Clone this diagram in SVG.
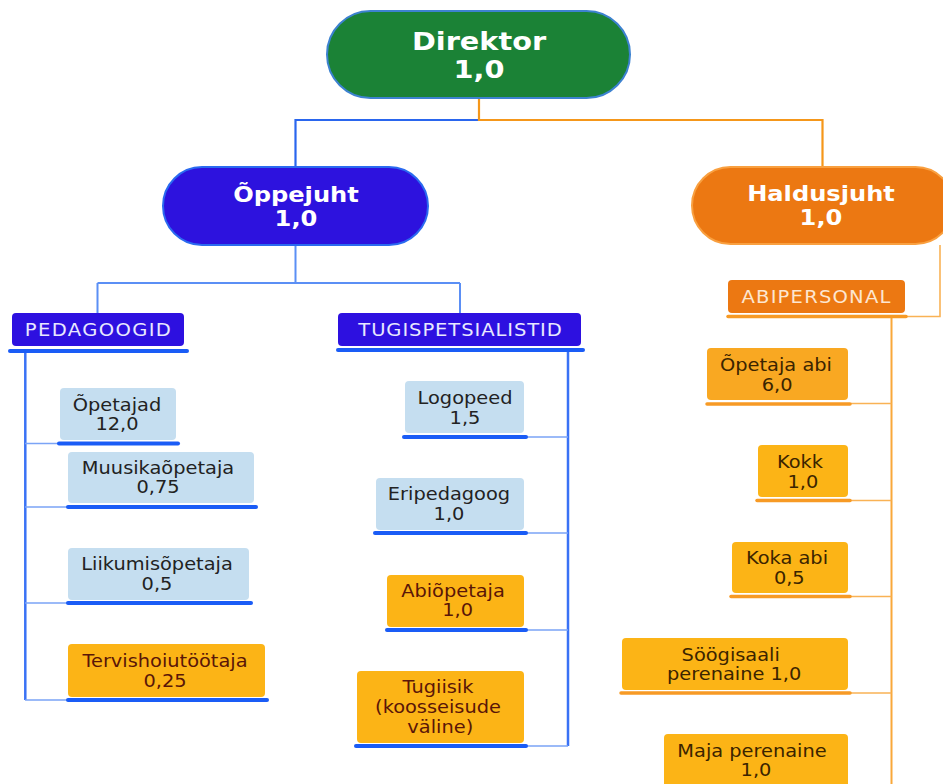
<svg xmlns="http://www.w3.org/2000/svg" width="943" height="784" viewBox="0 0 943 784">
<style>
text{font-family:"DejaVu Sans","Verdana",sans-serif;text-anchor:middle}
.big{font-weight:bold;fill:#ffffff}
.t{font-size:17px}
.lbl{font-size:17px}
.lb{fill:#c5def0}
.or{fill:#fcb416}
.dk{fill:#222222}
.br{fill:#3b2400}
.mr{fill:#5a1608}
.ulb{stroke:#1a5cf6;stroke-width:4;stroke-linecap:round}
.ulo{stroke:#f79a25;stroke-width:3.5;stroke-linecap:round}
.cb{fill:none;stroke:#3a72f5;stroke-width:2.5}
.cbt{fill:none;stroke:#7ba4f6;stroke-width:1.6}
.co{fill:none;stroke:#f9a83a;stroke-width:2}
.cot{fill:none;stroke:#f9b255;stroke-width:1.6}
</style>
<rect width="943" height="784" fill="#ffffff"/>
<g id="connectors">
  <path d="M479,120 H295.5 V166" fill="none" stroke="#2a66ee" stroke-width="2.2"/>
  <path d="M479,98 V120 H822.5 V166" fill="none" stroke="#f5971a" stroke-width="2.2"/>
  <path d="M295.5,245 V283 M97.5,283 H460 M97.5,283 V313 M460,283 V313" fill="none" stroke="#5b8ff5" stroke-width="2"/>
  <path class="cb" d="M25.3,351 V700"/>
  <path class="cbt" d="M25,443.5 H59 M25,507 H67 M25,603 H67 M25,700 H67"/>
  <path class="cb" d="M568,350 V746"/>
  <path class="cbt" d="M527,437 H568 M527,533 H568 M527,630 H568 M527,746 H568"/>
  <path class="cot" d="M940,245 V316.5 H907"/>
  <path class="co" d="M891.5,317 V784"/>
  <path class="cot" d="M851,403.5 H891.5 M851,500.5 H891.5 M851,596.5 H891.5 M851,693 H891.5"/>
</g>
<g id="direktor">
  <rect x="327" y="11" width="303" height="87" rx="43.5" fill="#1b8236" stroke="#3d82d0" stroke-width="2"/>
  <text class="big" font-size="25" transform="matrix(1.15 0 0 1 479 0)"><tspan x="0" y="50">Direktor</tspan><tspan x="0" y="78">1,0</tspan></text>
</g>
<g id="oppejuht">
  <rect x="163" y="167" width="265" height="78" rx="39" fill="#2d12de" stroke="#2a6af0" stroke-width="2"/>
  <text class="big" font-size="21" transform="matrix(1.15 0 0 1 296 0)"><tspan x="0" y="202">Õppejuht</tspan><tspan x="0" y="226">1,0</tspan></text>
</g>
<g id="haldusjuht">
  <rect x="692" y="167" width="262" height="77" rx="38.5" fill="#ec7812" stroke="#f9a040" stroke-width="2"/>
  <text class="big" font-size="21" transform="matrix(1.15 0 0 1 821 0)"><tspan x="0" y="201">Haldusjuht</tspan><tspan x="0" y="225">1,0</tspan></text>
</g>
<g id="pedagoogid">
  <rect x="12" y="313" width="172" height="33" rx="4" fill="#2d10e0"/>
  <line class="ulb" x1="10" y1="351" x2="187" y2="351"/>
  <text class="lbl" fill="#e8e8ff" transform="matrix(1.15 0 0 1 98.5 0)" x="0" y="336" letter-spacing="1.2">PEDAGOOGID</text>
</g>
<g id="tugispetsialistid">
  <rect x="338" y="313" width="243" height="33" rx="4" fill="#2d10e0"/>
  <line class="ulb" x1="338" y1="350" x2="583" y2="350"/>
  <text class="lbl" fill="#e8e8ff" transform="matrix(1.15 0 0 1 460.5 0)" x="0" y="336" letter-spacing="0.8">TUGISPETSIALISTID</text>
</g>
<g id="abipersonal">
  <rect x="728" y="280" width="177" height="33" rx="4" fill="#ec7812"/>
  <line class="ulo" x1="728" y1="316.5" x2="906" y2="316.5"/>
  <text class="lbl" fill="#fde6d0" transform="matrix(1.15 0 0 1 816.5 0)" x="0" y="303" letter-spacing="1.05">ABIPERSONAL</text>
</g>
<g id="opetajad">
  <rect class="lb" x="60" y="388" width="116" height="52" rx="4"/>
  <line class="ulb" x1="59" y1="443.5" x2="178" y2="443.5"/>
  <text class="t dk" transform="matrix(1.14 0 0 1 117 0)"><tspan x="0" y="411">Õpetajad</tspan><tspan x="0" y="430">12,0</tspan></text>
</g>
<g id="muusikaopetaja">
  <rect class="lb" x="68" y="452" width="186" height="51" rx="4"/>
  <line class="ulb" x1="68" y1="507" x2="256" y2="507"/>
  <text class="t dk" transform="matrix(1.14 0 0 1 158 0)"><tspan x="0" y="474">Muusikaõpetaja</tspan><tspan x="0" y="493">0,75</tspan></text>
</g>
<g id="liikumisopetaja">
  <rect class="lb" x="68" y="548" width="181" height="52" rx="4"/>
  <line class="ulb" x1="68" y1="603" x2="251" y2="603"/>
  <text class="t dk" transform="matrix(1.14 0 0 1 157 0)"><tspan x="0" y="570">Liikumisõpetaja</tspan><tspan x="0" y="590">0,5</tspan></text>
</g>
<g id="tervishoiutootaja">
  <rect class="or" x="68" y="644" width="197" height="53" rx="4"/>
  <line class="ulb" x1="68" y1="700" x2="267" y2="700"/>
  <text class="t mr" transform="matrix(1.14 0 0 1 165 0)"><tspan x="0" y="667">Tervishoiutöötaja</tspan><tspan x="0" y="687">0,25</tspan></text>
</g>
<g id="logopeed">
  <rect class="lb" x="405" y="381" width="119" height="52" rx="4"/>
  <line class="ulb" x1="404" y1="437" x2="526" y2="437"/>
  <text class="t dk" transform="matrix(1.14 0 0 1 465 0)"><tspan x="0" y="404">Logopeed</tspan><tspan x="0" y="424">1,5</tspan></text>
</g>
<g id="eripedagoog">
  <rect class="lb" x="376" y="478" width="148" height="52" rx="4"/>
  <line class="ulb" x1="375" y1="533" x2="526" y2="533"/>
  <text class="t dk" transform="matrix(1.14 0 0 1 449 0)"><tspan x="0" y="500">Eripedagoog</tspan><tspan x="0" y="520">1,0</tspan></text>
</g>
<g id="abiopetaja">
  <rect class="or" x="387" y="575" width="137" height="52" rx="4"/>
  <line class="ulb" x1="387" y1="630" x2="526" y2="630"/>
  <text class="t mr" transform="matrix(1.14 0 0 1 453 0)"><tspan x="0" y="597">Abiõpetaja</tspan><tspan x="4" y="616">1,0</tspan></text>
</g>
<g id="tugiisik">
  <rect class="or" x="357" y="671" width="167" height="72" rx="4"/>
  <line class="ulb" x1="356" y1="746" x2="526" y2="746"/>
  <text class="t mr" transform="matrix(1.14 0 0 1 438 0)"><tspan x="0" y="693">Tugiisik</tspan><tspan x="0" y="713">(koosseisude</tspan><tspan x="2" y="733">väline)</tspan></text>
</g>
<g id="opetaja-abi">
  <rect x="707" y="348" width="141" height="52" rx="4" fill="#f9a822"/>
  <line class="ulo" x1="707" y1="404" x2="850" y2="404"/>
  <text class="t br" transform="matrix(1.14 0 0 1 776 0)"><tspan x="0" y="371">Õpetaja abi</tspan><tspan x="1" y="391">6,0</tspan></text>
</g>
<g id="kokk">
  <rect class="or" x="758" y="445" width="90" height="52" rx="4"/>
  <line class="ulo" x1="757" y1="500.5" x2="850" y2="500.5"/>
  <text class="t br" transform="matrix(1.14 0 0 1 800 0)"><tspan x="0" y="468">Kokk</tspan><tspan x="2.5" y="488">1,0</tspan></text>
</g>
<g id="koka-abi">
  <rect class="or" x="732" y="542" width="116" height="51" rx="4"/>
  <line class="ulo" x1="731" y1="596.5" x2="850" y2="596.5"/>
  <text class="t br" transform="matrix(1.14 0 0 1 787 0)"><tspan x="0" y="564">Koka abi</tspan><tspan x="2" y="584">0,5</tspan></text>
</g>
<g id="soogisaali-perenaine">
  <rect class="or" x="622" y="638" width="226" height="52" rx="4"/>
  <line class="ulo" x1="621" y1="693" x2="850" y2="693"/>
  <text class="t br" transform="matrix(1.14 0 0 1 733 0)"><tspan x="-2" y="661">Söögisaali</tspan><tspan x="1" y="680">perenaine 1,0</tspan></text>
</g>
<g id="maja-perenaine">
  <rect class="or" x="664" y="734" width="184" height="60" rx="4"/>
  <text class="t br" transform="matrix(1.14 0 0 1 752 0)"><tspan x="0" y="757">Maja perenaine</tspan><tspan x="3.5" y="776">1,0</tspan></text>
</g>
</svg>
